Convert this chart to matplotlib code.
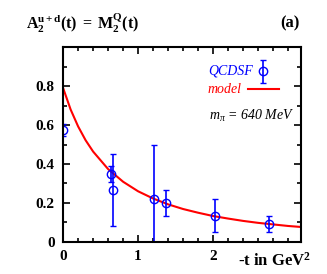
import numpy as np
import matplotlib
matplotlib.use("Agg")
import matplotlib.pyplot as plt
from matplotlib.ticker import MultipleLocator

plt.rcParams['font.family'] = 'Liberation Serif'
plt.rcParams['mathtext.fontset'] = 'custom'
plt.rcParams['mathtext.rm'] = 'Liberation Serif:bold'
plt.rcParams['mathtext.bf'] = 'Liberation Serif:bold'
plt.rcParams['mathtext.it'] = 'Liberation Serif:italic'

# lattice points (QCDSF)
t_data = [0.0, 0.636, 0.67, 1.21, 1.37, 2.02, 2.74]
a_data = [0.575, 0.35, 0.265, 0.22, 0.20, 0.135, 0.093]
a_err = [0.03, 0.04, 0.185, 0.28, 0.065, 0.085, 0.04]

# model curve
t_model = [0.0, 0.1, 0.2, 0.3, 0.4, 0.6, 0.8, 1.0, 1.2, 1.4, 1.6, 1.8,
           2.0, 2.2, 2.4, 2.6, 2.8, 3.0, 3.2]
a_model = [0.790, 0.680, 0.593, 0.522, 0.464, 0.374, 0.309, 0.260, 0.223,
           0.193, 0.169, 0.150, 0.133, 0.120, 0.108, 0.098, 0.090, 0.082, 0.076]

fig = plt.figure(figsize=(3.27, 2.74), dpi=100)
ax = fig.add_axes([0.193, 0.117, 0.727, 0.711])

ax.plot(t_model, a_model, color='red', lw=1.5)
ax.errorbar(t_data, a_data, yerr=a_err, fmt='o', color='blue',
            mfc='none', ms=6, mew=1.0, elinewidth=1.2, capsize=2,
            capthick=1.0)

ax.set_xlim(0, 3.17)
ax.set_ylim(0, 1.0)
ax.xaxis.set_minor_locator(MultipleLocator(0.2))
ax.yaxis.set_minor_locator(MultipleLocator(0.1))
ax.tick_params(which='both', direction='in', top=True, right=True, width=1.2)
ax.tick_params(which='major', length=5, labelsize=11, pad=6)
ax.tick_params(which='minor', length=3)
for s in ax.spines.values():
    s.set_linewidth(1.5)
ax.set_yticks([0, 0.2, 0.4, 0.6, 0.8])
ax.set_yticklabels(['0', '0.2', '0.4', '0.6', '0.8'], fontweight='bold')
ax.set_xticks([0, 1, 2])
ax.set_xticklabels(['0', '1', '2'], fontweight='bold')

# hand-made legend: text on the left, symbol on the right
ax.text(0.609, 0.877, 'QCDSF', transform=ax.transAxes, color='blue',
        style='italic', fontsize=10, va='center')
ax.errorbar([0.840], [0.877], yerr=[0.059], transform=ax.transAxes, fmt='o',
            color='blue', mfc='none', ms=6, mew=1.0, elinewidth=1.2, capsize=2,
            capthick=1.0, clip_on=False)
ax.text(0.609, 0.785, 'model', transform=ax.transAxes, color='red',
        style='italic', fontsize=10, va='center')
ax.plot([0.777, 0.908], [0.785, 0.785], transform=ax.transAxes, color='red',
        lw=1.5)
ax.text(0.613, 0.646, r'$\mathit{m_\pi}$ = 640 MeV', transform=ax.transAxes,
        ha='left', va='center', fontsize=10, style='italic')

fig.text(0.08, 0.915, r'$\mathbf{A_2^{u+d}(t)\ =\ M_2^{Q}(t)}$', fontsize=11.5,
         va='center')
fig.text(0.915, 0.915, '(a)', fontsize=12, fontweight='bold', ha='right',
         va='center')
fig.text(0.95, 0.05, r'-t in GeV$^\mathbf{2}$', fontsize=12, fontweight='bold',
         ha='right', va='center')

fig.savefig('out.png', dpi=100)
